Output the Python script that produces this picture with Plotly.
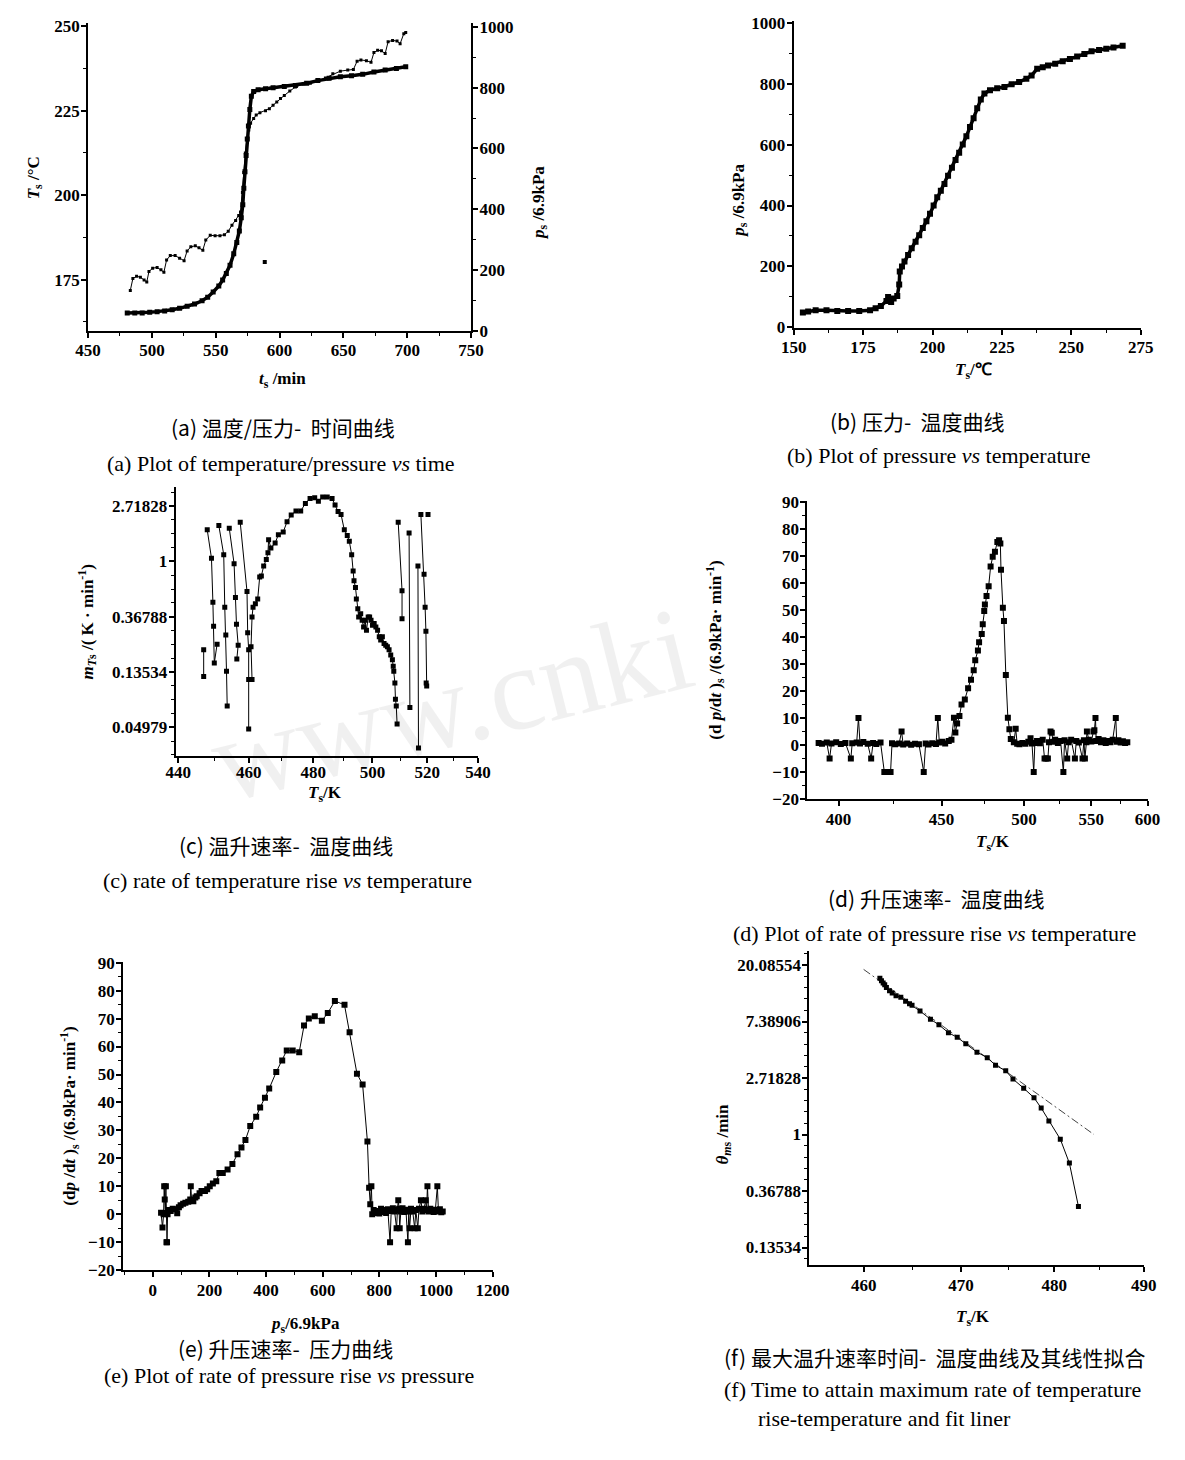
import math
import plotly.graph_objects as go

W, H = 1185, 1460

# ---------------- (a) temperature / pressure vs time ----------------
a_temp = [(483.1,171.8),(485.1,175.3),(488.0,176.0),(491.0,175.7),(493.9,174.9),(496.0,174.3),(497.7,177.4),
          (500.6,178.4),(504.1,178.6),(507.1,177.9),(509.4,177.2),(511.5,180.8),(514.4,182.1),(518.2,182.1),
          (521.7,181.3),(525.2,180.6),(527.6,183.5),(530.5,184.7),(534.0,185.0),(536.9,184.4),(539.9,183.7),
          (542.2,186.7),(545.7,188.1),(549.5,188.0),(553.3,188.0),(556.8,188.3),(559.8,189.3),(562.7,191.1),
          (565.6,192.5),(568.0,194.0),(569.4,195.0),(570.9,200.8),(572.0,206.7),(573.2,212.5),(574.4,216.4),
          (575.9,219.3),(577.3,221.3),(579.7,222.7),(581.7,223.7),(584.6,224.4),(589.0,225.0),(592.0,225.6),
          (594.9,226.6),(597.8,227.6),(600.7,228.6),(603.7,229.5),(608.0,230.8),(612.4,232.0),(618.3,232.8),
          (624.1,233.1),(630.0,233.7),(635.9,234.7),(641.7,235.9),(647.6,236.7),(653.4,237.0),(657.8,237.2),
          (660.7,239.6),(663.7,240.0),(668.0,239.8),(671.6,239.3),(673.9,242.2),(676.8,242.9),(679.8,242.7),
          (682.7,241.9),(685.0,245.4),(688.5,245.8),(692.0,245.6),(694.4,244.8),(697.3,247.8),(698.8,248.1)]
a_pres = [(480.7,59.3),(486.6,59.3),(492.4,59.3),(498.3,61.5),(504.1,63.6),(510.0,65.8),(515.9,70.1),
          (521.7,74.4),(527.6,80.9),(533.4,88.5),(539.3,99.2),(543.7,111.1),(548.0,128.4),(552.4,147.8),
          (555.4,167.2),(558.3,188.8),(561.2,215.7),(564.1,253.5),(566.5,291.2),(568.5,329.0),(570.0,372.2),
          (571.2,415.3),(572.0,469.2),(572.9,523.2),(573.8,577.1),(574.7,631.0),(575.6,674.2),(576.7,728.1),
          (577.9,771.3),(579.7,787.5),(583.2,792.8),(589.0,796.1),(594.9,799.3),(603.7,803.6),(612.4,806.9),
          (621.2,814.4),(630.0,823.0),(638.8,830.6),(647.6,836.0),(656.3,839.2),(665.1,843.6),(673.9,851.1),
          (682.7,857.6),(691.5,863.0),(698.8,868.4)]
a_outlier = [(588.4,226.5)]

# ---------------- (b) pressure vs temperature ----------------
b_pts = [(153.3,48.6),(155.2,51.9),(157.9,56.2),(161.8,56.2),(165.7,54.1),(169.6,54.1),(173.6,54.1),(177.5,56.2),
         (179.5,62.7),(181.4,70.3),(183.4,86.5),(184.0,99.5),(185.1,83.2),(186.0,95.1),(187.3,102.7),(188.0,140.5),
         (188.2,183.8),(189.0,200.0),(189.9,216.2),(191.2,237.8),(192.5,259.5),(193.9,281.1),(195.2,302.7),
         (196.5,326.5),(197.8,348.1),(199.1,373.0),(200.4,400.0),(201.7,427.0),(203.0,448.7),(204.3,470.3),
         (205.6,497.3),(207.0,524.3),(208.3,549.2),(209.6,573.0),(210.9,600.0),(212.2,627.0),(213.5,657.3),
         (214.8,686.5),(216.1,718.9),(217.4,748.1),(218.7,767.6),(220.7,778.4),(223.3,784.9),(225.9,789.2),
         (228.5,797.9),(231.2,805.4),(233.8,816.2),(235.7,827.0),(237.7,848.7),(239.7,854.1),(241.6,859.5),
         (244.2,864.9),(246.9,873.5),(249.5,881.1),(252.1,888.6),(254.7,897.3),(257.3,905.9),(260.0,910.3),
         (262.6,914.6),(265.2,918.9),(268.5,924.3)]

# ---------------- (c) rate of temperature rise vs temperature ----------------
c_segments = [
    [(447.0,0.202),(447.0,0.125)],
    [(448.0,1.77),(449.2,1.06),(449.6,0.478),(449.8,0.309),(450.0,0.159),(450.8,0.224)],
    [(451.3,1.91),(452.7,1.13),(453.0,0.437),(453.3,0.264),(453.5,0.137),(453.7,0.0733)],
    [(454.3,1.82),(455.7,0.96),(456.1,0.52),(456.4,0.321),(456.9,0.220),(456.5,0.171)],
    [(457.5,2.03),(459.5,0.58),(459.7,0.275),(460.0,0.202),(460.0,0.118),(460.0,0.0483)],
    [(461.0,0.118),(460.7,0.214),(461.0,0.366),(461.3,0.437),(462.0,0.464),(462.7,0.507),(463.3,0.756),
     (463.8,0.769),(464.5,0.920),(465.3,1.037),(465.8,1.168),(466.0,1.48),(466.7,1.276),(468.0,1.395),
     (469.0,1.62),(470.5,1.70),(471.7,2.05),(473.0,2.31),(474.5,2.49),(476.0,2.49),(477.5,2.85),(479.0,3.12),
     (480.5,3.16),(481.7,2.97),(483.1,3.21),(484.6,3.21),(486.2,3.12),(487.2,2.77),(488.2,2.46),(489.2,2.34),
     (490.3,1.77),(491.3,1.60),(492.0,1.44),(492.8,1.13),(493.3,0.841),(493.6,0.704),(494.1,0.625),
     (494.4,0.507),(494.9,0.424),(495.2,0.366),(495.9,0.388),(496.4,0.345),(496.9,0.306),(497.4,0.345),
     (497.9,0.288),(498.5,0.366),(499.0,0.366),(499.5,0.345),(500.0,0.315),(500.6,0.325),(501.2,0.306),
     (501.8,0.288),(502.4,0.256),(502.9,0.241),(503.5,0.256),(504.1,0.227),(504.7,0.220),(505.3,0.214),
     (505.9,0.202),(506.5,0.184),(507.1,0.169),(507.4,0.150),(507.6,0.137),(508.0,0.111),(508.2,0.0826),
     (508.5,0.0733),(508.8,0.0529)],
    [(509.2,2.03),(510.6,0.589),(510.6,0.355)],
    [(513.2,1.67),(513.5,0.0712)],
    [(516.5,0.920),(516.7,0.0342)],
    [(517.6,2.34),(518.8,0.793),(519.2,0.437),(519.5,0.283),(519.6,0.111),(519.8,0.105)],
    [(520.3,2.34)],
]
c_xticks = [440, 460, 480, 500, 520, 540]
c_xminor = [450, 470, 490, 510, 530]
c_ytext = ["2.71828", "1", "0.36788", "0.13534", "0.04979"]

# ---------------- (d) rate of pressure rise vs temperature ----------------
d_pts = [(391.6,0.8),(393.0,0.5),(395.0,0.9),(396.2,-5),(397.0,0.6),(399.0,1.0),(401.0,0.4),(403.0,0.8),
         (405.4,-5),(406.0,0.7),(408.0,0.9),(408.8,10),(409.5,0.6),(411.0,1.1),(413.0,0.5),(414.6,-5),
         (415.5,0.8),(417.0,0.4),(419.0,0.9),(420.8,-10),(421.8,-10),(422.8,-10),(423.8,-10),(424.5,0.7),
         (426.0,0.3),(428.0,0.6),(429.2,5),(430.0,0.2),(432.0,0.6),(434.0,0.1),(436.0,0.5),(438.0,0.3),
         (440.5,-10),(441.5,0.6),(443.0,0.2),(445.0,0.7),(447.0,0.4),(448.0,10),(448.8,0.9),(450.5,1.2),
         (452.0,0.6),(454.0,1.5),(455.5,2.0),
         (456.9,10.1),(457.7,4.6),(458.7,8.0),(460.0,10.7),(461.2,15.0),(463.1,16.8),(465.0,21.0),(466.7,24.1),
         (468.3,27.7),(469.2,31.4),(470.8,35.0),(471.5,38.0),(473.1,41.1),(473.7,44.7),(474.6,49.6),(475.0,52.0),
         (476.0,55.1),(477.3,58.7),(478.5,66.0),(479.8,69.6),(481.2,71.5),(482.7,75.1),(483.8,75.7),(484.6,74.5),
         (485.0,64.8),(486.2,50.8),(486.9,45.9),(488.1,25.9),(489.4,10.1),(490.4,5.8),(491.3,2.2),(493.3,1.0),
         (494.5,6.0),(495.5,0.5),(497.0,0.3),(499.0,0.8),(501.0,0.5),(503.0,1.2),(504.5,2.5),(505.5,0.6),
         (506.7,-10),(507.5,0.8),(509.0,1.5),(511.0,0.7),(513.0,2.0),(514.3,-5),(515.5,-5),(516.7,-5),
         (517.5,1.0),(518.6,5),(519.5,4.5),(520.5,1.2),(522.0,2.0),(524.0,0.8),(526.0,1.5),(528.1,-10),
         (529.0,1.8),(531.0,-5),(532.0,1.0),(534.0,2.0),(536.9,-5),(538.0,1.5),(540.0,0.9),(542.9,-5),
         (544.0,1.8),(544.8,-5),(546.0,1.0),(546.4,5),(548.0,2.0),(550.0,1.3),(551.7,5),(552.5,5.5),
         (553.4,10),(554.0,1.5),(556.0,2.2),(558.0,1.0),(560.0,1.8),(562.0,0.8),(564.0,1.5),(566.0,1.0),
         (568.0,2.0),(570.7,10),(571.5,1.2),(573.0,1.8),(575.0,0.9),(577.0,1.4),(579.0,0.8),(581.0,1.0)]
d_xticks = [400, 450, 500, 550, 600]
d_xminor = [425, 475, 525, 575]

# ---------------- (e) rate of pressure rise vs pressure ----------------
e_pts = [(29,0.6),(34,-4.7),(38,0.0),(40,10),(42,5.3),(44,0.5),(46,10),(48,-10),(50,-10),(52,0),(56,1.5),
         (63,1.2),(70,2.0),(80,1.8),(86,0.4),(92,2.5),(98,3.2),(107,3.8),(115,4.1),(125,4.5),(132,5.3),
         (134,10),(137,5.0),(143,4.7),(150,6.0),(155,6.5),(165,7.5),(172,8.3),(184,8.3),(192,9.0),(201,10),
         (212,11),(224,11.8),(235,14.8),(247,14.8),(264,16),(281,18),(299,21.5),(313,23.9),(327,26.6),
         (344,31.6),(365,34.9),(379,38.2),(396,41.7),(411,45),(436,50.9),(457,55),(473,58.6),(494,58.6),
         (517,58),(534,67.5),(551,70),(572,70.8),(597,69.2),(618,72),(643,76.3),(677,74.9),(695,65.1),
         (721,50.3),(741,46.4),(758,26),(764,9.5),(768,3.6),(772,10),(775,0),(780,1.5),(785,0.5),(792,1.2),
         (800,0.3),(806,2.0),(812,0.8),(818,1.5),(824,0.5),(830,1.8),(838,-10),(842,1.2),(848,2.2),(854,1.0),
         (861,-5),(864,1.5),(867,5),(870,2.0),(872,-5),(876,1.0),(882,2.2),(888,0.8),(894,1.6),(901,-10),
         (904,1.0),(907,-5),(912,2.0),(918,1.0),(925,-5),(929,1.5),(936,-5),(940,2.0),(947,5),(952,1.0),
         (958,2.0),(964,5),(967,1.5),(970,10),(974,1.0),(980,2.0),(986,1.2),(992,0.8),(998,1.6),(1005,10),
         (1009,1.0),(1014,1.8),(1019,0.7),(1024,1.0)]

# ---------------- (f) time to maximum rate vs temperature ----------------
f_pts = [(461.64,15.91),(461.80,15.19),(461.97,14.59),(462.13,14.17),(462.30,13.53),(462.62,12.77),
         (462.89,12.26),(463.28,11.69),(463.77,11.36),(464.26,10.59),(464.66,10.11),(464.92,9.88),
         (465.74,8.90),(466.82,7.70),(467.70,6.97),(468.69,6.06),(469.61,5.59),(470.51,4.98),(471.69,4.30),
         (472.78,3.90),(473.66,3.41),(474.75,3.09),(475.53,2.67),(476.68,2.27),(477.80,1.92),(478.58,1.60),
         (479.42,1.27),(480.67,0.922),(481.67,0.603),(482.67,0.280)]
f_fit = [(460.0,18.6),(484.4,1.0)]
f_xticks = [460, 470, 480, 490]
f_xminor = [465, 475, 485]
f_ytext = ["20.08554", "7.38906", "2.71828", "1", "0.36788", "0.13534"]


# ---------------- helpers ----------------
def rx(T):
    """reciprocal temperature scale (Origin 'reciprocal' axis)"""
    return None if T is None else -1000.0 / T


def unzip(pts):
    return [p[0] for p in pts], [p[1] for p in pts]


def dom_x(l, r):
    return [l / W, r / W]


def dom_y(t, b):
    return [1 - b / H, 1 - t / H]


TICKFONT = dict(family="Liberation Serif", size=17, color="black", weight="bold")


def axis(**kw):
    d = dict(showline=True, linecolor="black", linewidth=2, ticks="outside", ticklen=5,
             tickwidth=1.5, tickcolor="black", showgrid=False, zeroline=False,
             tickfont=TICKFONT, fixedrange=True, ticklabelstandoff=-2)
    d.update(kw)
    return d


def minor(**kw):
    d = dict(ticks="outside", ticklen=3, tickwidth=1, tickcolor="black")
    d.update(kw)
    return d


BLACK = "black"
fig = go.Figure()

# (a)
t, T = unzip(a_temp)
fig.add_trace(go.Scatter(x=t, y=T, mode="lines+markers", xaxis="x", yaxis="y",
                         line=dict(color=BLACK, width=1),
                         marker=dict(symbol="square", size=3, color=BLACK)))
t, p = unzip(a_pres)
fig.add_trace(go.Scatter(x=t, y=p, mode="lines+markers", xaxis="x", yaxis="y2",
                         line=dict(color=BLACK, width=3.5),
                         marker=dict(symbol="square", size=5, color=BLACK)))
t, p = unzip(a_outlier)
fig.add_trace(go.Scatter(x=t, y=p, mode="markers", xaxis="x", yaxis="y2",
                         marker=dict(symbol="square", size=4, color=BLACK)))

# (b)
T, p = unzip(b_pts)
fig.add_trace(go.Scatter(x=T, y=p, mode="lines+markers", xaxis="x2", yaxis="y3",
                         line=dict(color=BLACK, width=3.5),
                         marker=dict(symbol="square", size=6, color=BLACK)))

# (c)
cx, cy = [], []
for seg in c_segments:
    for T, m in seg:
        cx.append(rx(T))
        cy.append(m)
    cx.append(None)
    cy.append(None)
fig.add_trace(go.Scatter(x=cx, y=cy, mode="lines+markers", xaxis="x3", yaxis="y4",
                         line=dict(color=BLACK, width=1),
                         marker=dict(symbol="square", size=5, color=BLACK)))

# (d)
T, v = unzip(d_pts)
fig.add_trace(go.Scatter(x=[rx(x) for x in T], y=v, mode="lines+markers", xaxis="x4", yaxis="y5",
                         line=dict(color=BLACK, width=1),
                         marker=dict(symbol="square", size=6, color=BLACK)))

# (e)
p, v = unzip(e_pts)
fig.add_trace(go.Scatter(x=p, y=v, mode="lines+markers", xaxis="x5", yaxis="y6",
                         line=dict(color=BLACK, width=1),
                         marker=dict(symbol="square", size=6, color=BLACK)))

# (f)
T, th = unzip(f_fit)
fig.add_trace(go.Scatter(x=[rx(x) for x in T], y=th, mode="lines", xaxis="x6", yaxis="y7",
                         line=dict(color="#444444", width=1, dash="8px,3px,2px,3px")))
T, th = unzip(f_pts)
fig.add_trace(go.Scatter(x=[rx(x) for x in T], y=th, mode="lines+markers", xaxis="x6", yaxis="y7",
                         line=dict(color=BLACK, width=1),
                         marker=dict(symbol="square", size=5, color=BLACK)))

LN10 = math.log(10)

c_ymin = [math.exp(k + j / 4.0) for k in range(-4, 2) for j in range(1, 4)]
f_ymin = [math.exp(k + j / 5.0) for k in range(-3, 4) for j in range(1, 5)]

fig.update_layout(
    width=W, height=H, margin=dict(l=0, r=0, t=0, b=0),
    paper_bgcolor="white", plot_bgcolor="white", showlegend=False,
    # (a)
    xaxis=axis(domain=dom_x(77, 470), range=[450, 750], anchor="y", tick0=450, dtick=50,
               minor=minor(tick0=450, dtick=25)),
    yaxis=axis(domain=dom_y(15, 327), range=[159.8, 251], anchor="x", tick0=0, dtick=25,
               minor=minor(tick0=0, dtick=12.5)),
    yaxis2=axis(overlaying="y", side="right", anchor="x", range=[0, 1013], tick0=0, dtick=200,
                minor=minor(tick0=0, dtick=100)),
    # (b)
    xaxis2=axis(domain=dom_x(801, 1157), range=[150, 275], anchor="y3", tick0=0, dtick=25,
                minor=minor(tick0=0, dtick=12.5)),
    yaxis3=axis(domain=dom_y(13, 324), range=[-2, 1006], anchor="x2", tick0=0, dtick=200,
                minor=minor(tick0=0, dtick=100)),
    # (c)
    xaxis3=axis(domain=dom_x(167, 477), range=[rx(439.3), rx(540)], anchor="y4",
                tickmode="array", tickvals=[rx(v) for v in c_xticks], ticktext=[str(v) for v in c_xticks],
                ticklabelstandoff=-5,
                minor=minor(tickmode="array", tickvals=[rx(v) for v in c_xminor])),
    yaxis4=axis(domain=dom_y(485, 757), type="log", range=[-3.5125 / LN10, 1.345 / LN10], anchor="x3",
                tickmode="array", tickvals=[float(s) for s in c_ytext], ticktext=c_ytext,
                minor=minor(tickmode="array", tickvals=c_ymin)),
    # (d)
    xaxis4=axis(domain=dom_x(815, 1164), range=[rx(387), rx(600)], anchor="y5",
                tickmode="array", tickvals=[rx(v) for v in d_xticks], ticktext=[str(v) for v in d_xticks],
                minor=minor(tickmode="array", tickvals=[rx(v) for v in d_xminor])),
    yaxis5=axis(domain=dom_y(499, 801), range=[-20, 90.3], anchor="x4", tick0=0, dtick=10,
                minor=minor(tick0=0, dtick=5)),
    # (e)
    xaxis5=axis(domain=dom_x(113, 492), range=[-105, 1200], anchor="y6", tick0=0, dtick=200,
                minor=minor(tick0=0, dtick=100)),
    yaxis6=axis(domain=dom_y(966, 1278), range=[-20, 90.2], anchor="x5", tick0=0, dtick=10,
                minor=minor(tick0=0, dtick=5)),
    # (f)
    xaxis6=axis(domain=dom_x(817, 1160), range=[rx(454.6), rx(490)], anchor="y7",
                tickmode="array", tickvals=[rx(v) for v in f_xticks], ticktext=[str(v) for v in f_xticks],
                minor=minor(tickmode="array", tickvals=[rx(v) for v in f_xminor])),
    yaxis7=axis(domain=dom_y(955, 1273), type="log", range=[-2.3147 / LN10, 3.2448 / LN10], anchor="x6",
                tickmode="array", tickvals=[float(s) for s in f_ytext], ticktext=f_ytext,
                minor=minor(tickmode="array", tickvals=f_ymin)),
)

TITLEFONT = dict(family="Liberation Serif", size=17, color="black")
ZH = dict(family="Noto Sans CJK SC", size=21, color="black")
EN = dict(family="Liberation Serif", size=22, color="black")

ann = []


def label(text, x, y, font, angle=0, xanchor="center"):
    ann.append(dict(text=text, x=x / W, y=1 - y / H, xref="paper", yref="paper", showarrow=False,
                    font=font, textangle=angle, xanchor=xanchor, yanchor="middle"))


# axis titles
label("<b><i>T</i><sub>s</sub> /°C</b>", 22, 172, TITLEFONT, -90)
label("<b><i>p</i><sub>s</sub> /6.9kPa</b>", 540, 197, TITLEFONT, -90)
label("<b><i>t</i><sub>s</sub> /min</b>", 277, 377, TITLEFONT)
label("<b><i>p</i><sub>s</sub> /6.9kPa</b>", 745, 195, TITLEFONT, -90)
label("<b><i>T</i><sub>s</sub>/℃</b>", 985, 368, TITLEFONT)
label("<b><i>m</i><sub><i>T</i>s</sub> /( K · min<sup>-1</sup>)</b>", 76, 622, TITLEFONT, -90)
label("<b><i>T</i><sub>s</sub>/K</b>", 320, 796, TITLEFONT)
label("<b>(d <i>p</i>/d<i>t</i> )<sub>s</sub> /(6.9kPa· min<sup>-1</sup>)</b>", 721, 650, TITLEFONT, -90)
label("<b><i>T</i><sub>s</sub>/K</b>", 1005, 845, TITLEFONT)
label("<b>(d<i>p</i> /d<i>t</i> )<sub>s</sub> /(6.9kPa· min<sup>-1</sup>)</b>", 58, 1122, TITLEFONT, -90)
label("<b><i>p</i><sub>s</sub>/6.9kPa</b>", 300, 1333, TITLEFONT)
label("<b><i>θ</i><sub><i>m</i>s</sub> /min</b>", 729, 1140, TITLEFONT, -90)
label("<b><i>T</i><sub>s</sub>/K</b>", 985, 1326, TITLEFONT)

# captions
label("(a) 温度/压力-  时间曲线", 277, 424, ZH)
label("(a) Plot of temperature/pressure <i>vs</i> time", 275, 461, EN)
label("(b) 压力-  温度曲线", 928, 418, ZH)
label("(b) Plot of pressure <i>vs</i> temperature", 950, 453, EN)
label("(c) 温升速率-  温度曲线", 280, 847, ZH)
label("(c) rate of temperature rise <i>vs</i> temperature", 282, 883, EN)
label("(d) 升压速率-  温度曲线", 947, 901, ZH)
label("(d) Plot of rate of pressure rise <i>vs</i> temperature", 945, 937, EN)
label("(e) 升压速率-  压力曲线", 280, 1357, ZH)
label("(e) Plot of rate of pressure rise <i>vs</i> pressure", 283, 1385, EN)
label("(f) 最大温升速率时间-  温度曲线及其线性拟合", 727, 1366, ZH, xanchor="left")
label("(f) Time to attain maximum rate of temperature", 727, 1399, EN, xanchor="left")
label("rise-temperature and fit liner", 762, 1428, EN, xanchor="left")

# faint watermark
ann.append(dict(text="www.cnki", x=450 / W, y=1 - 705 / H, xref="paper", yref="paper", showarrow=False,
                font=dict(family="Liberation Serif", size=120, color="rgba(0,0,0,0.06)"),
                textangle=-14, xanchor="center", yanchor="middle"))

fig.update_layout(annotations=ann)
fig.write_html("out.html")
